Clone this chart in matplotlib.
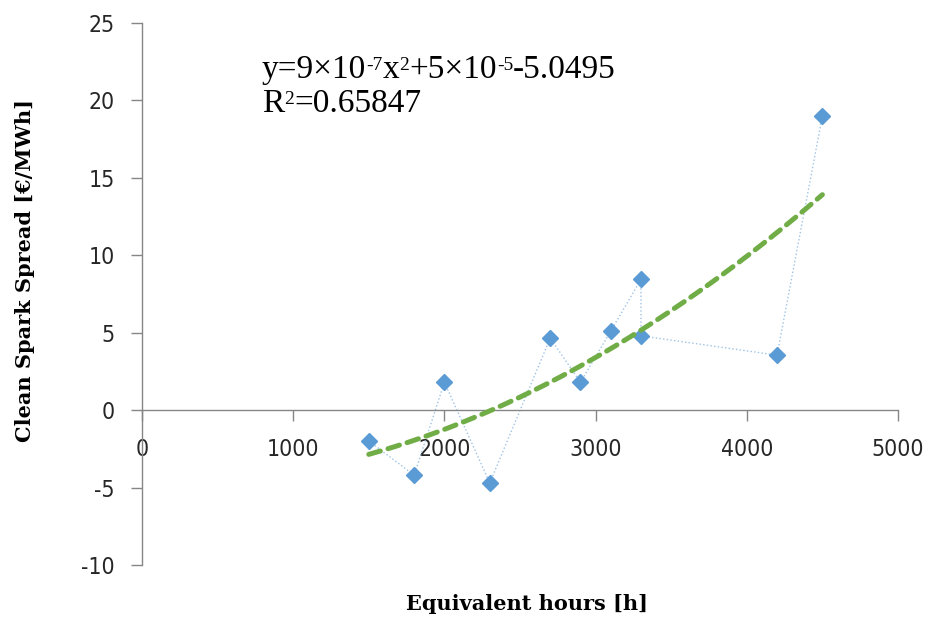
import numpy as np
import matplotlib
matplotlib.use("Agg")
import matplotlib.pyplot as plt

# data
hours = [1500, 1800, 2000, 2300, 2700, 2900, 3100, 3300, 3300, 4200, 4500]
spread = [-2.0, -4.2, 1.8, -4.7, 4.65, 1.8, 5.1, 8.45, 4.8, 3.55, 19.0]
x_ticks = [0, 1000, 2000, 3000, 4000, 5000]
y_ticks = [-10, -5, 0, 5, 10, 15, 20, 25]

# trendline label, split into normal / superscript pieces
eq_parts = [("y=9×10", False), ("-7", True), ("x", False), ("2", True),
            ("+5×10", False), ("-5", True), ("-5.0495", False)]
r2_parts = [("R", False), ("2", True), ("=0.65847", False)]

plt.rcParams["axes.unicode_minus"] = False

axis_grey = "#868686"
W, H = 928, 619

fig = plt.figure(figsize=(9.28, 6.19), dpi=100)
ax = fig.add_axes([142 / W, 1 - 565 / H, 756 / W, 542 / H])

# dotted line joining the points, then the diamond markers
ax.plot(hours, spread, linestyle=":", color="#9dc3e6", linewidth=1.0, zorder=2)
ax.plot(hours, spread, linestyle="none", marker="D", markersize=8,
        color="#5b9bd5", zorder=3)

# 2nd order polynomial trendline
coef = np.polyfit(hours, spread, 2)
xs = np.linspace(min(hours), max(hours), 200)
ax.plot(xs, np.polyval(coef, xs), linestyle=(0, (2.4, 1.6)), color="#70ad47",
        linewidth=3.6, dash_capstyle="round", zorder=4)

ax.set_xlim(0, 5000)
ax.set_ylim(-10, 25)
ax.set_xticks(x_ticks)
ax.set_yticks(y_ticks)

ax.spines["top"].set_visible(False)
ax.spines["right"].set_visible(False)
ax.spines["bottom"].set_position(("data", 0))
for s in ("left", "bottom"):
    ax.spines[s].set_color(axis_grey)
    ax.spines[s].set_linewidth(1.0)

ax.tick_params(axis="x", direction="out", length=8, width=1.0, color=axis_grey,
               pad=12)
ax.tick_params(axis="y", direction="out", length=8, width=1.0, color=axis_grey,
               pad=11.5)
for lab in ax.get_xticklabels() + ax.get_yticklabels():
    lab.set_family("DejaVu Sans")
    lab.set_stretch("condensed")
    lab.set_fontsize(16.5)
    lab.set_color("#262626")

fig.text(527 / W, 1 - 604 / H, "Equivalent hours [h]", family="DejaVu Serif",
         fontweight="bold", fontsize=15, ha="center", va="center")
fig.text(25 / W, 1 - 271 / H, "Clean Spark Spread [€/MWh]", family="DejaVu Serif",
         fontweight="bold", fontsize=15, ha="center", va="center", rotation=90)


def rich_line(parts, x, y, size=24, sup_size=14):
    # first piece in figure coords, each next piece chained to the previous one;
    # normal pieces keep the baseline of the last normal piece
    base = fig.text(x, y, parts[0][0], family="Liberation Serif", fontsize=size,
                    ha="left", va="bottom")
    last = base
    for txt, sup in parts[1:]:
        if sup:
            last = ax.annotate(txt, xy=(1, 0.93), xycoords=(last, base),
                               fontsize=sup_size, family="Liberation Serif",
                               ha="left", va="top", annotation_clip=False)
        else:
            last = ax.annotate(txt, xy=(1, 0), xycoords=(last, base),
                               fontsize=size, family="Liberation Serif",
                               ha="left", va="bottom", annotation_clip=False)
            base = last


rich_line(eq_parts, 262 / W, 1 - 85 / H)
rich_line(r2_parts, 262 / W, 1 - 119 / H)

fig.savefig("out.png", dpi=100)
